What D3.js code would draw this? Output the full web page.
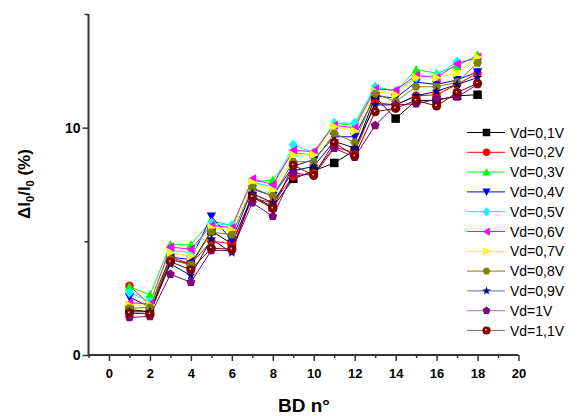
<!DOCTYPE html>
<html><head><meta charset="utf-8">
<script src="https://cdn.jsdelivr.net/npm/d3@7"></script>
<style>body{margin:0;background:#fff}svg{display:block}text{font-family:"Liberation Sans",Arial,sans-serif}</style>
</head><body><svg id="c" width="583" height="416"></svg>
<script>
const xs = [1,2,3,4,5,6,7,8,9,10,11,12,13,14,15,16,17,18];
const seriesNames = ["Vd=0,1V","Vd=0,2V","Vd=0,3V","Vd=0,4V","Vd=0,5V","Vd=0,6V","Vd=0,7V","Vd=0,8V","Vd=0,9V","Vd=1V","Vd=1,1V"];
const seriesColors = ["#000000","#ff0000","#00ff00","#0000ff","#00ffff","#ff00ff","#ffff00","#808000","#000080","#800080","#800000"];
const seriesMarkers = ["square","circle","triUp","triDown","diamond","triLeft","triRight","hex","star","pentagon","ball"];
const v01 = [2.0,1.9,4.2,4.0,5.45,4.9,7.0,6.5,7.75,8.1,8.45,9.0,11.35,10.4,11.2,11.2,11.4,11.45];
const v02 = [3.05,2.2,4.3,4.0,5.0,4.9,6.9,6.7,7.85,8.0,9.15,8.9,11.1,11.0,11.4,11.45,11.9,12.4];
const v03 = [3.0,2.65,4.85,4.85,5.9,5.7,7.6,7.7,8.9,8.8,10.2,10.1,11.8,11.6,12.55,12.4,12.7,13.2];
const v04 = [2.55,2.1,4.3,4.2,6.1,5.05,7.3,7.0,8.3,8.6,9.6,9.6,11.4,11.3,12.0,11.9,12.1,12.45];
const v05 = [2.75,2.35,4.6,4.5,5.8,5.7,7.6,7.4,9.25,8.9,10.2,10.2,11.8,11.6,12.2,12.3,12.9,13.0];
const v06 = [2.3,2.25,4.75,4.65,5.7,5.6,7.75,7.5,9.0,8.95,10.1,10.0,11.7,11.65,12.3,12.2,12.8,13.1];
const v07 = [2.2,2.2,4.5,4.35,5.6,5.5,7.6,7.25,8.8,8.8,10.05,9.85,11.6,11.45,12.2,12.2,12.4,13.1];
const v08 = [2.05,2.1,4.2,3.95,5.4,5.3,7.35,7.0,8.5,8.5,9.75,9.35,11.5,11.15,11.8,11.8,12.0,12.85];
const v09 = [1.9,1.9,4.0,3.5,5.1,4.5,7.1,6.7,8.1,8.3,9.4,9.1,11.0,11.0,11.4,11.6,11.9,12.2];
const v10 = [1.65,1.7,3.55,3.2,4.6,4.6,6.7,6.1,8.0,7.9,9.1,8.7,10.1,11.0,11.05,11.25,11.35,11.9];
const v11 = [1.85,1.8,4.1,3.75,4.7,4.65,6.95,6.45,8.35,7.9,9.35,8.75,10.7,10.85,11.2,10.95,11.55,11.95];
const seriesValues = [v01,v02,v03,v04,v05,v06,v07,v08,v09,v10,v11];
const xTicks = [0,2,4,6,8,10,12,14,16,18,20];
const yTicks = [0,10];

const svg = d3.select("#c");
const x = d3.scaleLinear().domain([-1,20]).range([88.5,518.5]);
const y = d3.scaleLinear().domain([0,15]).range([355,14]);
const axisColor = "#333";

function markerPath(type, s){
  const r = s/2;
  switch(type){
    case "square": return `M${-r},${-r}h${s}v${s}h${-s}Z`;
    case "triUp": return `M0,${-r*1.1}L${r*1.1},${r*0.9}L${-r*1.1},${r*0.9}Z`;
    case "triDown": return `M0,${r*1.1}L${r*1.1},${-r*0.9}L${-r*1.1},${-r*0.9}Z`;
    case "triLeft": return `M${-r*1.1},0L${r*0.9},${-r*1.1}L${r*0.9},${r*1.1}Z`;
    case "triRight": return `M${r*1.1},0L${-r*0.9},${-r*1.1}L${-r*0.9},${r*1.1}Z`;
    case "diamond": return `M0,${-r*1.25}L${r*1.05},0L0,${r*1.25}L${-r*1.05},0Z`;
    case "hex": { let p=[]; for(let i=0;i<6;i++){const a=Math.PI/3*i; p.push([r*1.05*Math.cos(a), r*1.05*Math.sin(a)]);} return "M"+p.map(q=>q.join(",")).join("L")+"Z"; }
    case "pentagon": { let p=[]; for(let i=0;i<5;i++){const a=-Math.PI/2+2*Math.PI/5*i; p.push([r*1.1*Math.cos(a), r*1.1*Math.sin(a)]);} return "M"+p.map(q=>q.join(",")).join("L")+"Z"; }
    case "star": { let p=[]; for(let i=0;i<10;i++){const a=-Math.PI/2+Math.PI/5*i; const rr = i%2?r*0.5:r*1.2; p.push([rr*Math.cos(a), rr*Math.sin(a)]);} return "M"+p.map(q=>q.join(",")).join("L")+"Z"; }
    default: return null;
  }
}
function drawMarker(g, type, color, cx, cy, s){
  if(type==="circle"){ g.append("circle").attr("cx",cx).attr("cy",cy).attr("r",s/2).attr("fill",color); }
  else if(type==="ball"){
    g.append("circle").attr("cx",cx).attr("cy",cy).attr("r",s/2+0.3).attr("fill",color);
    g.append("circle").attr("cx",cx-0.6).attr("cy",cy-0.8).attr("r",0.9).attr("fill","#e8c0c0");
  } else {
    g.append("path").attr("d",markerPath(type,s)).attr("transform",`translate(${cx},${cy})`).attr("fill",color);
  }
}

// series
const line = d3.line().x((d,i)=>x(xs[i])).y(d=>y(d));
const plot = svg.append("g");
seriesValues.forEach((vals,k)=>{
  plot.append("path").datum(vals).attr("d",line).attr("fill","none").attr("stroke",seriesColors[k]).attr("stroke-width",1);
});
seriesValues.forEach((vals,k)=>{
  const g = plot.append("g");
  vals.forEach((v,i)=> drawMarker(g, seriesMarkers[k], seriesColors[k], x(xs[i]), y(v), 8.5));
});

// axes
const xAxisMajor = d3.axisBottom(x).tickValues(xTicks).tickSize(6).tickFormat(d3.format("d"));
const xAxisMinor = d3.axisBottom(x).tickValues(d3.range(-1,20,2)).tickSize(3).tickFormat("");
const gx = svg.append("g").attr("transform",`translate(0,${y(0)})`).call(xAxisMajor);
svg.append("g").attr("transform",`translate(0,${y(0)})`).call(xAxisMinor);
const yAxisMajor = d3.axisLeft(y).tickValues(yTicks).tickSize(6).tickFormat(d3.format("d"));
const yAxisMinor = d3.axisLeft(y).tickValues([5,15]).tickSize(4).tickFormat("");
const gy = svg.append("g").attr("transform",`translate(${x(-1)},0)`).call(yAxisMajor);
svg.append("g").attr("transform",`translate(${x(-1)},0)`).call(yAxisMinor);
svg.selectAll(".domain").remove();
svg.selectAll(".tick line").attr("stroke",axisColor).attr("stroke-width",1.5);
gx.selectAll(".tick text").style("font-size","13px").style("font-family","Liberation Sans, Arial").style("font-weight","bold").attr("fill","#000").attr("dy","1.05em");
gy.selectAll(".tick text").style("font-size","14px").style("font-family","Liberation Sans, Arial").style("font-weight","bold").attr("fill","#000").attr("x",-8);
svg.append("line").attr("x1",x(-1)).attr("x2",x(20)).attr("y1",y(0)).attr("y2",y(0)).attr("stroke",axisColor).attr("stroke-width",2);
svg.append("line").attr("x1",x(-1)).attr("x2",x(-1)).attr("y1",y(0)).attr("y2",y(15)).attr("stroke",axisColor).attr("stroke-width",2);

// axis titles
svg.append("text").attr("x",304).attr("y",412).attr("text-anchor","middle").style("font-size","19px").style("font-weight","bold").text("BD n°");
const yl = svg.append("text").attr("transform","translate(30,184) rotate(-90)").attr("text-anchor","middle").style("font-size","17px").style("font-weight","bold");
yl.append("tspan").text("ΔI");
yl.append("tspan").style("font-size","11px").attr("dy",4).text("0");
yl.append("tspan").attr("dy",-4).text("/I");
yl.append("tspan").style("font-size","11px").attr("dy",4).text("0");
yl.append("tspan").attr("dy",-4).text(" (%)");

// legend
const lg = svg.append("g");
seriesNames.forEach((n,k)=>{
  const ly = 132.5 + k*19.8;
  lg.append("line").attr("x1",467).attr("x2",505).attr("y1",ly).attr("y2",ly).attr("stroke",seriesColors[k]).attr("stroke-width",1).attr("stroke-opacity", k>=8?0.6:1);
  drawMarker(lg, seriesMarkers[k], seriesColors[k], 486.5, ly, 7.5);
  lg.append("text").attr("x",510).attr("y",ly+5).style("font-size","14px").style("font-weight","normal").attr("fill","#000").text(n);
});
</script></body></html>
